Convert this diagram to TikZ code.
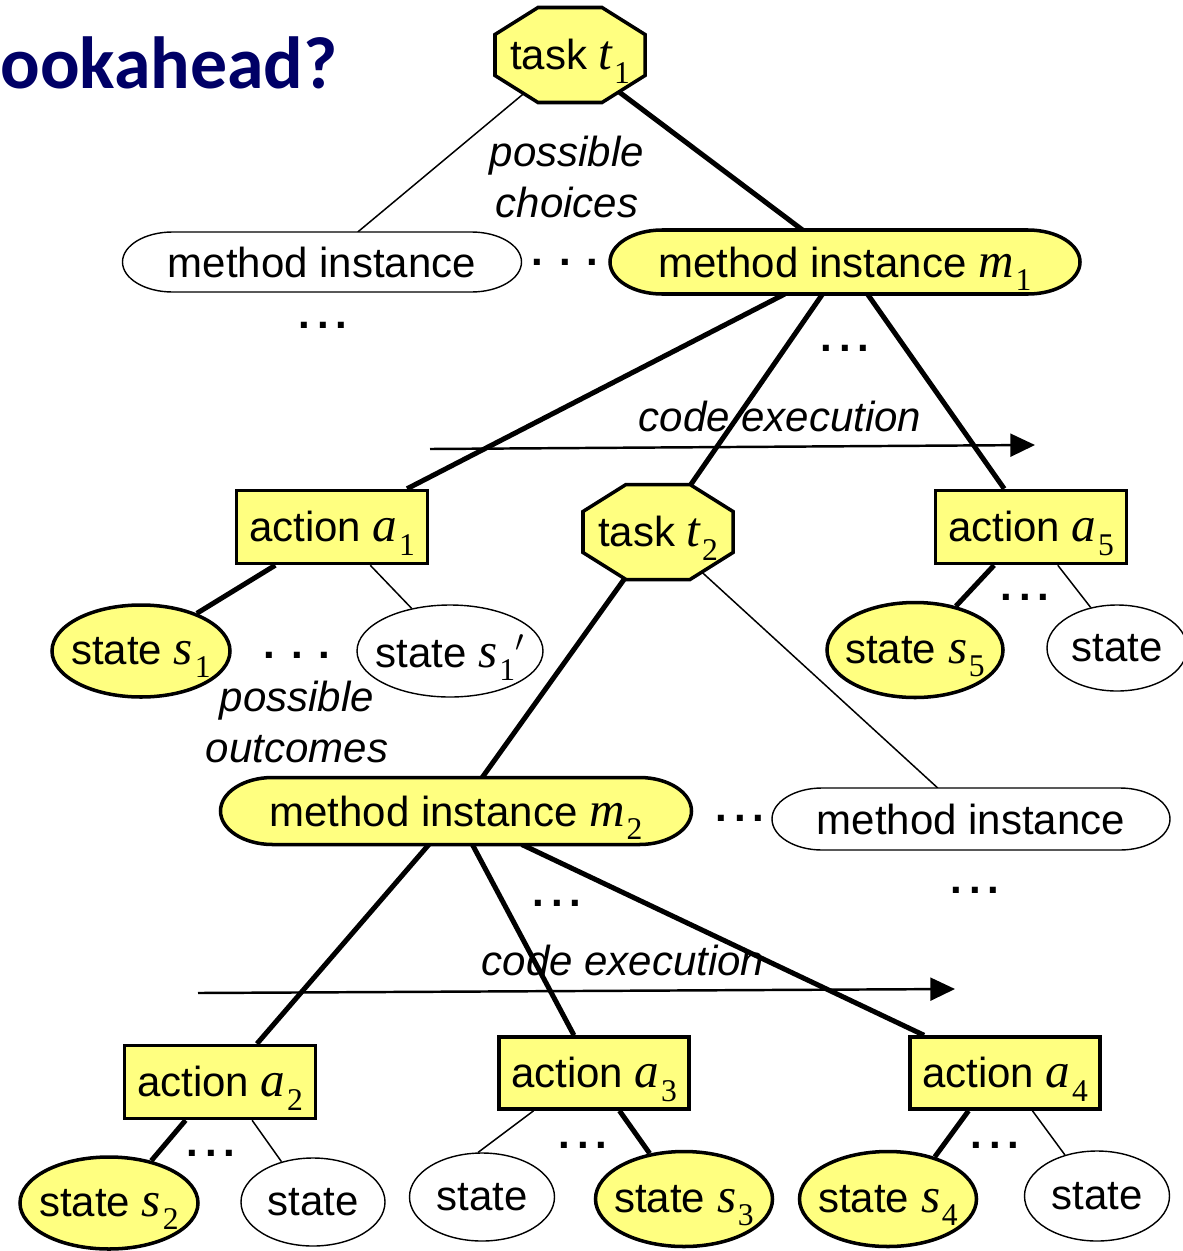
\documentclass[tikz,border=0pt]{standalone}
\usepackage{fontspec}
\setmainfont{Liberation Sans}
\newfontfamily\tms{Liberation Serif}
\newfontfamily\titlefont{Carlito}
\usetikzlibrary{shapes.geometric,calc,backgrounds,arrows.meta}
\definecolor{hilite}{RGB}{255,255,128}
\definecolor{navy}{RGB}{0,0,102}
\newcommand\base{\fontsize{23.9pt}{28.5pt}\selectfont}
% variable with subscript, Times italic letter and upright index
\newcommand\sv[2]{{\tms\itshape\fontsize{28pt}{30pt}\selectfont #1}\kern1pt\raisebox{-7.5pt}[0pt][0pt]{\tms\fontsize{18pt}{18pt}\selectfont #2}}
\newcommand\zb[1]{\makebox[0pt]{#1}}
% octagon outline around a node: node, style
\newcommand\octpath[2]{%
  \path[#2] ($(#1.north west)+(43,0)$) -- ($(#1.north east)+(-43,0)$)
    -- ($(#1.north east)+(0,27)$) -- ($(#1.south east)+(0,-27)$)
    -- ($(#1.south east)+(-43,0)$) -- ($(#1.south west)+(43,0)$)
    -- ($(#1.south west)+(0,-27)$) -- ($(#1.north west)+(0,27)$) -- cycle;}
% pill outline with elliptic caps: node, cap x radius, cap y radius, style
\newcommand\pillpath[4]{%
  \path[#4] ($(#1.north west)+(#2,0)$) -- ($(#1.north east)+(-#2,0)$)
    arc[start angle=-90,end angle=90,x radius=#2,y radius=#3]
    -- ($(#1.south west)+(#2,0)$)
    arc[start angle=90,end angle=270,x radius=#2,y radius=#3] -- cycle;}
\tikzset{
  strong/.style={line width=2.85pt},
  weak/.style={line width=0.85pt},
  sz/.style 2 args={minimum width=#1*0.02cm,minimum height=#2*0.02cm},
  slot/.style={rectangle,inner sep=0pt,outer sep=0pt},
  hiline/.style={draw=black,line width=2pt,fill=hilite},
  plainline/.style={draw=black,line width=0.8pt,fill=white},
  actbox/.style={rectangle,hiline,inner sep=0pt,sz={191}{73}},
  hist/.style={ellipse,hiline,inner sep=0pt},
  plst/.style={ellipse,plainline,inner sep=0pt},
  gap/.style={font=\base\bfseries,inner sep=0pt},
  lbl/.style={font=\base\itshape,align=center,inner sep=0pt},
  runarrow/.style={line width=1.4pt,-{Triangle[length=14pt,width=13pt]}}
}
\begin{document}
\begin{tikzpicture}[x=0.02cm,y=-0.02cm,font=\base]
\useasboundingbox (0,0) rectangle (1183,1251);

% title
\node[anchor=base west,inner sep=0pt,text=navy,
      font=\titlefont\bfseries\fontsize{42pt}{42pt}\selectfont] (title) at (0,88) {ookahead?};

% tree nodes
\node[slot,sz={150}{95}] (t1) at (570,55) {task \sv{t}{1}};
\node[slot,sz={399}{60}] (mL) at (322,262) {method instance};
\node[slot,sz={470}{64}] (m1) at (845,262) {method instance \sv{m}{1}};
\node[actbox] (a1) at (332,527) {action \sv{a}{1}};
\node[slot,sz={150}{95}] (t2) at (658,532) {task \sv{t}{2}};
\node[actbox] (a5) at (1031,527) {action \sv{a}{5}};
\node[hist,sz={178}{92}] (s1) at (141,651) {\zb{state \sv{s}{1}}};
\node[plst,sz={186}{92}] (s1p) at (450,651) {\zb{state \sv{s}{1}$'$}};
\node[hist,sz={176}{95}] (s5) at (915,650) {\zb{state \sv{s}{5}}};
\node[plst,sz={140}{86}] (st5) at (1117,648) {\zb{state}};
\node[slot,sz={471}{67}] (m2) at (456,811) {method instance \sv{m}{2}};
\node[slot,sz={398}{62}] (mR) at (971,819) {method instance};
\node[actbox] (a2) at (220,1082) {action \sv{a}{2}};
\node[actbox,sz={190}{72}] (a3) at (594,1073) {action \sv{a}{3}};
\node[actbox,sz={190}{72}] (a4) at (1005,1073) {action \sv{a}{4}};
\node[hist,sz={178}{92}] (s2) at (109,1203) {\zb{state \sv{s}{2}}};
\node[plst,sz={144}{88}] (st2) at (313,1202) {\zb{state}};
\node[plst,sz={145}{88}] (st3) at (482,1197) {\zb{state}};
\node[hist,sz={177}{95}] (s3) at (684,1199) {\zb{state \sv{s}{3}}};
\node[hist,sz={177}{95}] (s4) at (888,1199) {\zb{state \sv{s}{4}}};
\node[plst,sz={145}{90}] (st4) at (1097,1196) {\zb{state}};

% elided siblings
\node[gap] (g1) at (565,262) {. . .};
\node[gap] (g2) at (323,325) {.\,.\,.};
\node[gap] (g3) at (845,348) {.\,.\,.};
\node[gap] (g4) at (297,655) {. . .};
\node[gap] (g5) at (1025,597) {.\,.\,.};
\node[gap] (g6) at (740,818) {.\,.\,.};
\node[gap] (g7) at (975,890) {.\,.\,.};
\node[gap] (g8) at (557,903) {.\,.\,.};
\node[gap] (g9) at (211,1153) {.\,.\,.};
\node[gap] (g10) at (583,1145) {.\,.\,.};
\node[gap] (g11) at (995,1145) {.\,.\,.};

% annotations
\node[lbl] (choices) at (567,177) {possible\\choices};
\node[lbl] (outcomes) at (297,722) {possible\\outcomes};
\node[lbl] (exec1) at (780,416) {code execution};
\node[lbl] (exec2) at (623,960) {code execution};

\coordinate (e1s) at (430,449);
\coordinate (e1e) at (1035,445);
\coordinate (e2s) at (198,993);
\coordinate (e2e) at (955,989);
\draw[runarrow] (e1s) -- (e1e);
\draw[runarrow] (e2s) -- (e2e);

% connectors
\begin{scope}[on background layer]
\draw[weak] (t1.center) -- (mL.40);
\draw[strong] (t1.center) -- (m1.143);
\draw[strong] (m1.208) -- (a1.27);
\draw[strong] (m1.235) -- (t2.center);
\draw[strong] (m1.305) -- (a5.125);
\draw[strong] (a1.214) -- (s1.34);
\draw[weak] (a1.315) -- (s1p.132);
\draw[strong] (t2.center) -- (m2.52);
\draw[weak] (t2.center) -- (mR.137);
\draw[strong] (a5.226) -- (s5.47);
\draw[weak] (a5.305) -- (st5.123);
\draw[strong] (m2.231) -- (a2.46);
\draw[strong] (m2.296) -- (a3.118);
\draw[strong] (m2.333) -- (a4.155);
\draw[strong] (a2.228) -- (s2.45);
\draw[weak] (a2.310) -- (st2.128);
\draw[weak] (a3.212) -- (st3.95);
\draw[strong] (a3.304) -- (s3.127);
\draw[strong] (a4.226) -- (s4.42);
\draw[weak] (a4.306) -- (st4.128);
\end{scope}

% outlines of task and method nodes
\begin{scope}[on background layer]
\octpath{t1}{hiline}
\octpath{t2}{hiline}
\pillpath{m1}{52}{32}{hiline}
\pillpath{m2}{52}{33.5}{hiline}
\pillpath{mL}{50}{30}{plainline}
\pillpath{mR}{50}{31}{plainline}
\end{scope}
\end{tikzpicture}
\end{document}
